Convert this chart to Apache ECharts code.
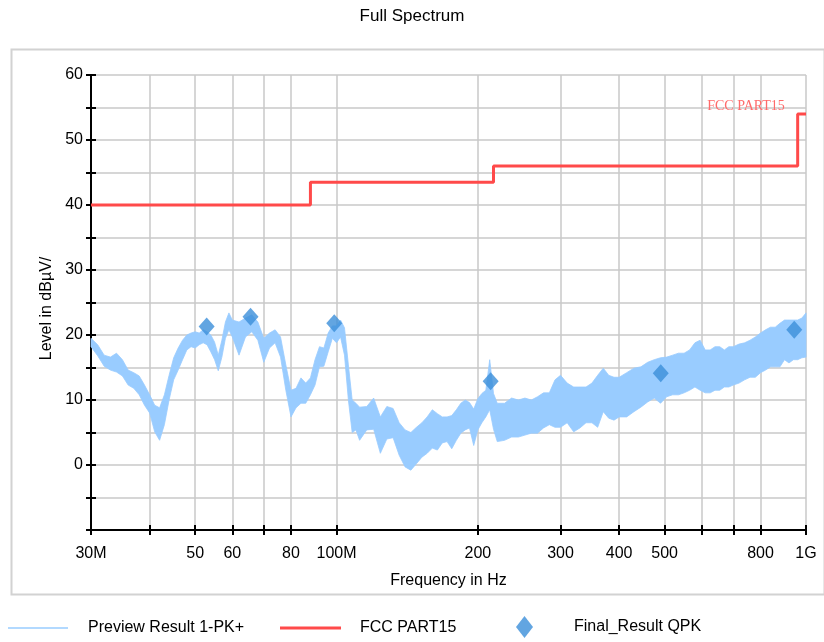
<!DOCTYPE html>
<html>
<head>
<meta charset="utf-8">
<script src="https://cdn.jsdelivr.net/npm/echarts@6/dist/echarts.min.js"></script>
<style>html,body{margin:0;padding:0;background:#fff}#c{width:824px;height:642px}</style>
</head>
<body>
<div id="c"></div>
<script>
// Preview Result 1-PK+ : frequency (MHz) with upper / lower edge of the noisy trace (dBµV)
const freqMHz = [30,31,32,33,34,35,36,37,38,39,40,41,42,43,44,45,46,47,48,49,50,51,52,53,54,55,56,57,58,59,60,
  62,64,66,68,70,72,74,76,78,80,82,84,86,88,90,92,94,96,98,100,102,104,106,108,110,112,116,120,124,128,132,136,140,144,
  148,152,156,160,164,168,172,176,180,184,188,192,196,200,204,208,212,216,220,228,236,244,252,260,268,276,284,292,300,
  310,320,330,340,350,360,370,380,390,400,415,430,445,460,475,490,505,520,535,550,565,580,595,610,625,640,655,670,685,700,
  720,740,760,780,800,820,840,860,880,900,920,940,960,980,1000];
const peakTop = [19.5,18.5,16.9,16.6,17.2,16.2,14.6,14.2,13.7,12.3,10.8,9.2,8.8,10.8,13.8,16.5,18.0,19.2,20.0,20.3,20.5,20.3,20.8,20.5,20.0,18.9,16.9,19.2,22.0,23.4,22.3,
  22.0,22.6,23.1,22.0,19.5,20.3,20.8,19.7,15.4,11.5,11.8,13.4,12.6,13.4,16.2,18.2,18.0,20.3,21.4,21.4,22.3,21.1,15.4,10.0,9.5,8.9,9.0,10.3,7.4,9.0,8.7,6.5,5.4,5.0,
  5.8,6.5,7.4,8.5,7.9,7.4,7.4,7.6,8.5,9.5,10.0,9.6,8.6,10.2,11.0,11.5,16.2,11.0,9.5,9.5,10.3,10.0,10.3,10.0,10.5,11.1,11.1,13.1,13.8,
  12.6,12.0,12.0,12.0,12.6,13.8,14.9,13.8,13.5,13.5,14.2,14.9,15.1,15.8,16.2,16.5,16.6,16.9,17.2,17.2,17.7,18.8,19.2,17.7,17.7,18.2,18.2,17.7,18.2,18.2,
  18.6,18.8,19.2,19.7,20.3,20.8,21.2,21.2,21.8,22.3,22.3,22.3,22.3,22.6,23.4];
const peakBottom = [18.2,16.8,15.2,14.6,14.3,13.7,12.3,11.8,10.8,9.2,8.0,5.1,3.8,6.2,10.0,13.1,14.6,16.2,17.7,18.2,18.0,18.5,18.8,18.5,17.4,16.2,14.5,16.6,19.5,20.8,19.7,
  16.9,19.7,20.5,19.2,15.8,18.0,18.8,16.6,11.5,7.4,8.8,9.5,9.5,10.8,12.3,15.1,15.2,17.4,19.5,18.8,19.7,16.9,10.0,5.0,5.4,3.8,5.4,5.5,1.8,4.0,4.2,1.5,-0.3,-0.8,
  0.2,1.2,1.8,2.6,2.3,3.4,3.6,2.5,3.8,4.9,5.4,5.7,3.0,5.4,6.5,7.4,8.5,5.5,3.6,3.8,4.3,4.3,4.6,4.9,4.9,5.7,6.2,5.8,5.8,
  6.5,5.1,5.7,6.5,6.5,5.8,8.2,7.2,6.9,7.4,7.4,8.2,8.9,9.7,10.3,9.5,10.5,10.8,10.8,11.1,11.5,12.0,11.5,11.1,11.1,11.5,11.5,12.0,12.0,12.3,
  12.6,13.1,13.5,13.5,14.2,14.6,15.1,15.1,15.1,16.2,15.7,16.2,16.2,16.5,16.6];

// FCC PART15 limit (step changes)
const limitFreq = [30, 88, 216, 960, 1000];
const limitLevel = [40, 43.5, 46, 54, 54];

// Final_Result QPK
const qpkFreq = [52.9, 65.6, 98.9, 213.0, 490.5, 944];
const qpkLevel = [21.3, 22.8, 21.8, 12.9, 14.1, 20.8];

// axis ticks / labels
const xTickValues = [30, 40, 50, 60, 70, 80, 100, 200, 300, 400, 500, 600, 700, 800, 1000];
const xLabelValues = [30, 50, 60, 80, 100, 200, 300, 400, 500, 800, 1000];
const xLabelNames = {30: '30M', 100: '100M', 1000: '1G'};

const FONT = '"Liberation Sans", Arial, Helvetica, sans-serif';
const SERIF = '"Liberation Serif", "Times New Roman", serif';
const BAND = '#99ccff';
const RED = '#ff4a4a';
const BLUE = '#3b8fd9';

const chart = echarts.init(document.getElementById('c'), null, {renderer: 'canvas'});

const bandData = freqMHz.map((f, i) => [f, peakTop[i], peakBottom[i]]);

const option = {
  animation: false,
  backgroundColor: '#ffffff',
  title: {
    text: 'Full Spectrum', left: 'center', top: 8, padding: 0,
    textStyle: {fontFamily: FONT, fontSize: 17, fontWeight: 'normal', color: '#000'}
  },
  graphic: [{
    type: 'rect', left: 9, top: 47, silent: true, z: -10,
    shape: {width: 813, height: 545},
    style: {fill: 'none', stroke: '#d2d2d2', lineWidth: 2}
  }],
  legend: [
    {
      left: 8, top: 620, padding: 0, itemWidth: 60, itemHeight: 14, selectedMode: false,
      data: [{name: 'Preview Result 1-PK+', icon: 'path://M0,0H60V1.5H0Z', itemStyle: {color: BAND}}],
      textStyle: {fontFamily: FONT, fontSize: 16, color: '#000', padding: [0, 0, 0, 15]}
    },
    {
      left: 280, top: 620, padding: 0, itemWidth: 61, itemHeight: 14, selectedMode: false,
      data: [{name: 'FCC PART15', icon: 'path://M0,0H60V3H0Z', itemStyle: {color: RED}}],
      textStyle: {fontFamily: FONT, fontSize: 16, color: '#000', padding: [0, 0, 0, 14]}
    },
    {
      left: 516, top: 616, padding: 0, itemWidth: 17, itemHeight: 22, selectedMode: false,
      data: [{name: 'Final_Result QPK', icon: 'diamond', itemStyle: {color: BLUE}}],
      textStyle: {fontFamily: FONT, fontSize: 16, color: '#000', padding: [0, 0, 0, 36]}
    }
  ],
  grid: {left: 91, right: 18, top: 75, bottom: 112, containLabel: false},
  xAxis: [
    {
      type: 'log', logBase: 10, min: 30, max: 1000, position: 'bottom',
      name: 'Frequency in Hz', nameLocation: 'middle', nameGap: 43,
      nameTextStyle: {fontFamily: FONT, fontSize: 16, color: '#000'},
      axisLine: {show: true, onZero: false, lineStyle: {color: '#000', width: 2}},
      axisTick: {show: true, customValues: xTickValues, length: 5, lineStyle: {color: '#000', width: 2}},
      axisLabel: {
        customValues: xLabelValues, margin: 16, fontFamily: FONT, fontSize: 16, color: '#000',
        formatter: function (v) { const r = Math.round(v); return xLabelNames[r] || String(r); }
      },
      splitLine: {show: true, lineStyle: {color: '#c8c8c8', width: 1.5}},
      minorTick: {show: false}, minorSplitLine: {show: false}
    },
    {
      type: 'log', logBase: 10, min: 30, max: 1000, position: 'bottom',
      axisLine: {show: false, onZero: false},
      axisTick: {show: true, inside: true, customValues: xTickValues, length: 5, lineStyle: {color: '#000', width: 2}},
      axisLabel: {show: false},
      splitLine: {show: false}
    }
  ],
  yAxis: [
    {
      type: 'value', min: -10, max: 60, interval: 5,
      name: 'Level in dBµV/', nameLocation: 'middle', nameGap: 32,
      nameTextStyle: {fontFamily: FONT, fontSize: 16, color: '#000', padding: [0, 12, 0, 0]},
      axisLine: {show: true, onZero: false, lineStyle: {color: '#000', width: 2}},
      axisTick: {show: true, length: 5, lineStyle: {color: '#000', width: 2}},
      axisLabel: {
        margin: 8, fontFamily: FONT, fontSize: 16, color: '#000',
        formatter: function (v) { return (v >= 0 && v % 10 === 0) ? String(v) : ''; }
      },
      splitLine: {show: true, lineStyle: {color: '#c8c8c8', width: 1.5}}
    },
    {
      type: 'value', min: -10, max: 60, interval: 5, position: 'left',
      axisLine: {show: false, onZero: false},
      axisTick: {show: true, inside: true, length: 5, lineStyle: {color: '#000', width: 2}},
      axisLabel: {show: false},
      splitLine: {show: false}
    }
  ],
  series: [
    {
      name: 'Preview Result 1-PK+', type: 'custom', xAxisIndex: 0, yAxisIndex: 0, z: 2, silent: true,
      itemStyle: {color: BAND},
      encode: {x: 0, y: [1, 2]},
      data: bandData,
      renderItem: function (params, api) {
        if (params.dataIndexInside !== 0) return null;
        const pts = [];
        for (let i = 0; i < freqMHz.length; i++) pts.push(api.coord([freqMHz[i], peakTop[i]]));
        for (let i = freqMHz.length - 1; i >= 0; i--) pts.push(api.coord([freqMHz[i], peakBottom[i]]));
        return {type: 'polygon', shape: {points: pts}, style: {fill: BAND, stroke: BAND, lineWidth: 0.8}};
      }
    },
    {
      name: 'FCC PART15', type: 'line', xAxisIndex: 0, yAxisIndex: 0, z: 3, step: 'end',
      symbol: 'none', showSymbol: false,
      itemStyle: {color: RED},
      lineStyle: {color: RED, width: 3},
      data: limitFreq.map((f, i) => [f, limitLevel[i]]),
      markPoint: {
        symbol: 'circle', symbolSize: 1, silent: true,
        itemStyle: {color: 'rgba(0,0,0,0)'},
        label: {show: true, position: 'inside', formatter: 'FCC PART15', color: '#ff6b6b', fontFamily: SERIF, fontSize: 14},
        data: [{coord: [745, 55.2]}]
      }
    },
    {
      name: 'Final_Result QPK', type: 'scatter', xAxisIndex: 0, yAxisIndex: 0, z: 4,
      symbol: 'diamond', symbolSize: [16, 18],
      itemStyle: {color: BLUE},
      data: qpkFreq.map((f, i) => [f, qpkLevel[i]])
    }
  ]
};
chart.setOption(option);
</script>
</body>
</html>
